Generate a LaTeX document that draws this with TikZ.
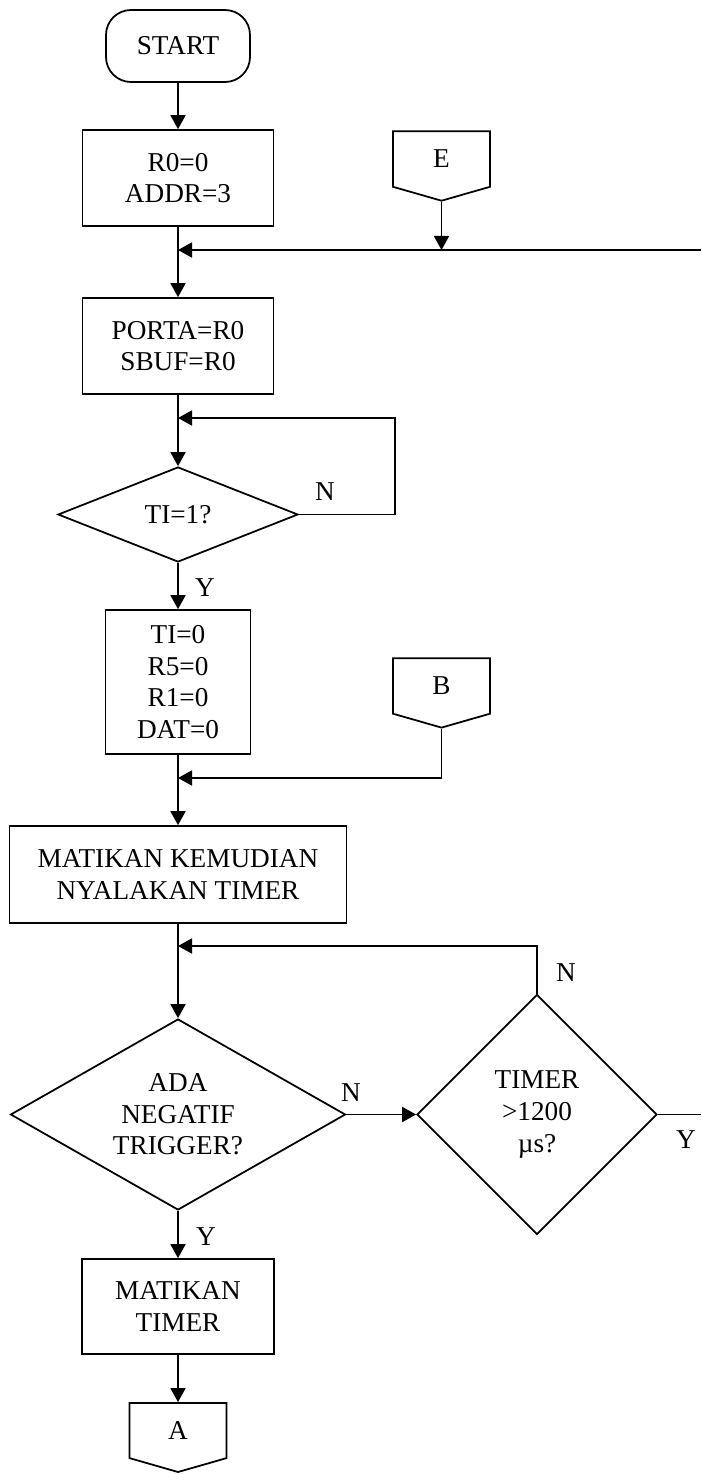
\documentclass[tikz,border=0pt]{standalone}
\usepackage{fontspec}
\setmainfont{Liberation Serif}
\usetikzlibrary{shapes.geometric, shapes.symbols, arrows.meta}
\tikzstyle{procblock} = [draw, rectangle, align=center, inner sep=0]
\tikzstyle{termblock} = [draw, rectangle, rounded corners=0.5cm, inner sep=0]
\tikzstyle{decblock} = [draw, diamond, align=center, inner sep=0]
\tikzstyle{connblock} = [draw, signal, signal to=south, signal from=nowhere, signal pointer angle=148, minimum width=1.94cm, minimum height=1.16cm, inner sep=0]

\begin{document}
\begin{tikzpicture}[line width=1pt, >={Triangle[length=0.28cm, width=0.3cm]}, font=\fontsize{15.5}{18}\selectfont]
      \useasboundingbox (0, 0) rectangle (14.02, -29.48);
      \node[termblock, minimum width=2.88cm, minimum height=1.44cm] (start) at (3.56, -0.92) {START};
      \node[procblock, minimum width=3.82cm, minimum height=1.92cm] (init) at (3.56, -3.56) {R0=0\\ADDR=3};
      \node[connblock] (conE) at (8.83, -3.18) {E};
      \coordinate (mergeE) at (3.56, -5.0);
      \coordinate (lineE) at (14.02, -5.0);
      \node[procblock, minimum width=3.82cm, minimum height=1.92cm] (porta) at (3.56, -6.92) {PORTA=R0\\SBUF=R0};
      \coordinate (mergeTI) at (3.56, -8.36);
      \node[decblock, minimum width=4.8cm, minimum height=1.9cm, shape aspect=2.53] (tiq) at (3.56, -10.29) {TI=1?};
      \node (tiN) at (6.5, -9.84) {N};
      \node (tiY) at (4.1, -11.76) {Y};
      \node[procblock, minimum width=2.9cm, minimum height=2.88cm] (clear) at (3.56, -13.64) {TI=0\\R5=0\\R1=0\\DAT=0};
      \node[connblock] (conB) at (8.83, -13.72) {B};
      \coordinate (mergeB) at (3.56, -15.56);
      \node[procblock, minimum width=6.74cm, minimum height=1.94cm] (restart) at (3.56, -17.49) {MATIKAN KEMUDIAN\\NYALAKAN TIMER};
      \coordinate (mergeT) at (3.56, -18.92);
      \node[decblock, minimum width=6.7cm, minimum height=3.82cm, shape aspect=1.75] (trig) at (3.56, -22.29) {ADA\\NEGATIF\\TRIGGER?};
      \node[decblock, minimum width=4.8cm, minimum height=4.8cm] (tout) at (10.74, -22.29) {TIMER\\>1200\\µs?};
      \node (trigN) at (7.02, -21.86) {N};
      \node (toutN) at (11.32, -19.46) {N};
      \node (toutY) at (13.72, -22.8) {Y};
      \coordinate (exitY) at (14.02, -22.29);
      \node (trigY) at (4.12, -24.74) {Y};
      \node[procblock, minimum width=3.84cm, minimum height=1.9cm] (stop) at (3.56, -26.13) {MATIKAN\\TIMER};
      \node[connblock] (conA) at (3.56, -28.61) {A};

      \draw[->] (start) -- (init);
      \draw[->] (init) -- (porta);
      \draw[->] (conE.south) -- (conE.south |- mergeE);
      \draw[->] (lineE) -- (mergeE);
      \draw[->] (porta) -- (tiq);
      \draw[->] (tiq.east) -- ++(1.92, 0) |- (mergeTI);
      \draw[->] (tiq) -- (clear);
      \draw[->] (clear) -- (restart);
      \draw[->] (conB.south) |- (mergeB);
      \draw[->] (restart) -- (trig);
      \draw[->] (tout.north) |- (mergeT);
      \draw[->] (trig) -- (tout);
      \draw (tout.east) -- (exitY);
      \draw[->] (trig) -- (stop);
      \draw[->] (stop) -- (conA);
\end{tikzpicture}
\end{document}
